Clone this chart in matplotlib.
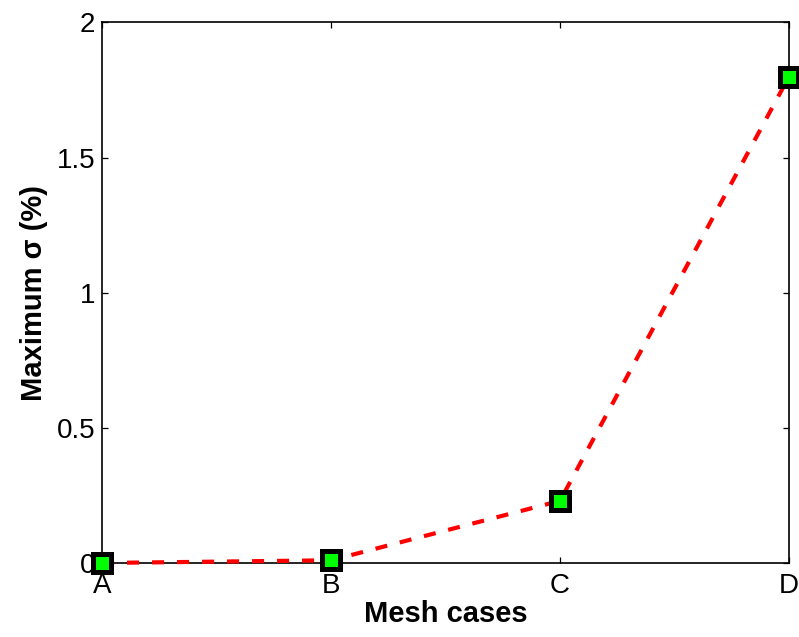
import matplotlib
matplotlib.use("Agg")
import matplotlib.pyplot as plt

# ── datos ────────────────────────────────────────────────────────────────────
cases  = ["A", "B", "C", "D"]
sigma  = [0.0, 0.01, 0.23, 1.80]
yticks = [0, 0.5, 1, 1.5, 2]
ylabels = ["0", "0.5", "1", "1.5", "2"]

plt.rcParams["font.family"] = ["Liberation Sans", "DejaVu Sans"]

fig = plt.figure(figsize=(7.99, 6.37), dpi=100)
ax = fig.add_axes([0.1277, 0.1162, 0.8598, 0.8485])

x = list(range(len(cases)))
ax.plot(x, sigma, color="red", linewidth=3.0, dashes=[2.9, 3.1],
        marker="s", markersize=13.5, markerfacecolor="#00ff00",
        markeredgecolor="black", markeredgewidth=3.6, clip_on=False, zorder=3)

ax.set_xlim(0, 3)
ax.set_ylim(0, 2)
ax.set_xticks(x)
ax.set_xticklabels(cases)
ax.set_yticks(yticks)
ax.set_yticklabels(ylabels)

ax.tick_params(direction="in", length=4.5, width=0.9, labelsize=20,
               top=True, right=True)
ax.tick_params(axis="y", pad=5)
ax.tick_params(axis="x", pad=7)
for s in ax.spines.values():
    s.set_linewidth(1.2)

ax.set_xlabel("Mesh cases", fontsize=21, fontweight="bold", labelpad=1)
ax.set_ylabel("Maximum σ (%)", fontsize=21, fontweight="bold", labelpad=6)

fig.savefig("out.png", dpi=100)
plt.close(fig)
